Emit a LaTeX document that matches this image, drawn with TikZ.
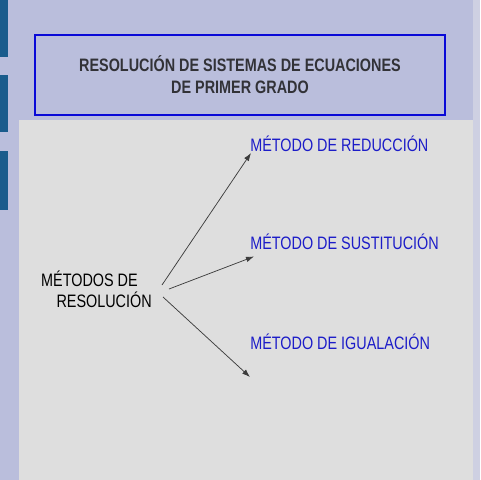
\documentclass[tikz,border=0pt]{standalone}
\usepackage{fontspec}
\setmainfont{Liberation Sans}
\newfontfamily\narrowsans[FakeStretch=0.8]{Liberation Sans}
\usetikzlibrary{arrows.meta}
\definecolor{bglav}{RGB}{186,190,220}
\definecolor{sidestrip}{RGB}{206,208,226}
\definecolor{barblue}{RGB}{26,92,140}
\definecolor{panelgrey}{RGB}{222,222,222}
\definecolor{boxblue}{RGB}{10,10,215}
\definecolor{methblue}{RGB}{28,28,200}
\definecolor{titlegrey}{RGB}{50,50,55}
\definecolor{arrowgrey}{RGB}{60,60,60}
\tikzset{
  titlebox/.style={draw=boxblue, line width=1.6pt, fill=bglav, minimum width=307.5pt, minimum height=60pt, inner sep=0pt,
    align=center, text=titlegrey, font=\narrowsans\bfseries\fontsize{13.5}{16.5}\selectfont},
  lefttext/.style={align=right, inner sep=0pt, text=black, font=\narrowsans\fontsize{13.5}{15.5}\selectfont},
  methtext/.style={anchor=base west, inner sep=0pt, text=methblue, font=\narrowsans\fontsize{13.5}{16.5}\selectfont},
  conn/.style={draw=arrowgrey, line width=0.55pt, -{Latex[length=6pt,width=4.2pt]}}
}
\begin{document}
\begin{tikzpicture}[x=0.75pt,y=-0.75pt]
\useasboundingbox (0,0) rectangle (480,480);
\fill[bglav] (0,0) rectangle (480,480);
\fill[sidestrip] (473,0) rectangle (480,480);
\fill[barblue] (0,0) rectangle (8,57);
\fill[barblue] (0,75) rectangle (8,132);
\fill[barblue] (0,151) rectangle (8,210);
\fill[panelgrey] (19,120) rectangle (473,480);
\node[titlebox] (title) at (240,75) {RESOLUCIÓN DE SISTEMAS DE ECUACIONES\\DE PRIMER GRADO};
\node[lefttext, anchor=east] (metodos) at (152,289) {MÉTODOS DE\hspace*{10.5pt}\\RESOLUCIÓN};
\node[methtext] (reduccion) at (250,151.5) {MÉTODO DE REDUCCIÓN};
\node[methtext] (sustitucion) at (250,249.5) {MÉTODO DE SUSTITUCIÓN};
\node[methtext] (igualacion) at (250,349.5) {MÉTODO DE IGUALACIÓN};
\coordinate (s1) at (162,285);
\coordinate (s2) at (169,289);
\coordinate (s3) at (163,297);
\coordinate (e1) at (251,153);
\coordinate (e2) at (254,256.5);
\coordinate (e3) at (250,377);
\draw[conn] (s1) -- (e1);
\draw[conn] (s2) -- (e2);
\draw[conn] (s3) -- (e3);
\end{tikzpicture}
\end{document}
